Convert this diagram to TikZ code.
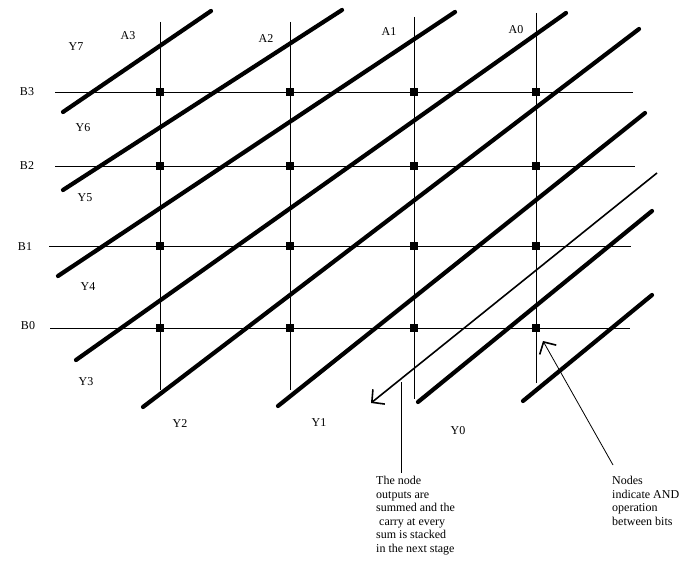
\documentclass[tikz,border=0pt]{standalone}
\usepackage{fontspec}
\setmainfont{Liberation Serif}
\usetikzlibrary{arrows.meta}

\tikzstyle{wire} = [line width=0.8pt]
\tikzstyle{sum} = [line width=4.2pt, line cap=round]
\tikzstyle{bit} = [rectangle, fill, minimum size=8pt, inner sep=0pt]
\tikzstyle{lbl} = [font=\fontsize{12}{13.5}\selectfont, inner sep=0pt]
\tikzstyle{note} = [lbl, align=left, anchor=north west]
\tikzstyle{barb} = [line width=1.6pt, -{Straight Barb[length=9pt,width=19pt,line width=1.6pt]}]

\begin{document}
\begin{tikzpicture}[x=1pt, y=-1pt]
\useasboundingbox (0,0) rectangle (693,585);
%ends of the A wires
\coordinate (A3t) at (160,22);  \coordinate (A3b) at (160,390);
\coordinate (A2t) at (290,22);  \coordinate (A2b) at (290,390);
\coordinate (A1t) at (414,17);  \coordinate (A1b) at (414,399);
\coordinate (A0t) at (536,13);  \coordinate (A0b) at (536,383);
%ends of the B wires
\coordinate (B3l) at (55,92);   \coordinate (B3r) at (633,92);
\coordinate (B2l) at (55,166);  \coordinate (B2r) at (635,166);
\coordinate (B1l) at (49,246);  \coordinate (B1r) at (631,246);
\coordinate (B0l) at (50,328);  \coordinate (B0r) at (630,328);
%begin wires
\draw[wire] (A3t) -- (A3b);
\draw[wire] (A2t) -- (A2b);
\draw[wire] (A1t) -- (A1b);
\draw[wire] (A0t) -- (A0b);
\draw[wire] (B3l) -- (B3r);
\draw[wire] (B2l) -- (B2r);
\draw[wire] (B1l) -- (B1r);
\draw[wire] (B0l) -- (B0r);
%end wires
%begin AND nodes
\node[bit] (a3b3) at (A3t |- B3l) {};
\node[bit] (a2b3) at (A2t |- B3l) {};
\node[bit] (a1b3) at (A1t |- B3l) {};
\node[bit] (a0b3) at (A0t |- B3l) {};
\node[bit] (a3b2) at (A3t |- B2l) {};
\node[bit] (a2b2) at (A2t |- B2l) {};
\node[bit] (a1b2) at (A1t |- B2l) {};
\node[bit] (a0b2) at (A0t |- B2l) {};
\node[bit] (a3b1) at (A3t |- B1l) {};
\node[bit] (a2b1) at (A2t |- B1l) {};
\node[bit] (a1b1) at (A1t |- B1l) {};
\node[bit] (a0b1) at (A0t |- B1l) {};
\node[bit] (a3b0) at (A3t |- B0l) {};
\node[bit] (a2b0) at (A2t |- B0l) {};
\node[bit] (a1b0) at (A1t |- B0l) {};
\node[bit] (a0b0) at (A0t |- B0l) {};
%end AND nodes
%begin sum lines
\coordinate (s1a) at (63,112);  \coordinate (s1b) at (211,11);
\coordinate (s2a) at (63,190);  \coordinate (s2b) at (342,10);
\coordinate (s3a) at (58,276);  \coordinate (s3b) at (455,12);
\coordinate (s4a) at (76,360);  \coordinate (s4b) at (566,13);
\coordinate (s5a) at (143,407); \coordinate (s5b) at (639,29);
\coordinate (s6a) at (278,406); \coordinate (s6b) at (645,113);
\coordinate (s7a) at (418,402); \coordinate (s7b) at (652,211);
\coordinate (s8a) at (523,401); \coordinate (s8b) at (652,295);
\draw[sum] (s1a) -- (s1b);
\draw[sum] (s2a) -- (s2b);
\draw[sum] (s3a) -- (s3b);
\draw[sum] (s4a) -- (s4b);
\draw[sum] (s5a) -- (s5b);
\draw[sum] (s6a) -- (s6b);
\draw[sum] (s7a) -- (s7b);
\draw[sum] (s8a) -- (s8b);
%end sum lines
%carry
\coordinate (cy1) at (657,173);
\coordinate (cy2) at (371,403);
\draw[barb] (cy1) -- (cy2);
%begin labels
\node[lbl] (A3) at (128,36) {A3};
\node[lbl] (A2) at (266,39) {A2};
\node[lbl] (A1) at (389,32) {A1};
\node[lbl] (A0) at (516,30) {A0};
\node[lbl] (B3) at (27,92) {B3};
\node[lbl] (B2) at (27,166) {B2};
\node[lbl] (B1) at (25,247) {B1};
\node[lbl] (B0) at (28,326) {B0};
\node[lbl] (Y7) at (76,47) {Y7};
\node[lbl] (Y6) at (83,128) {Y6};
\node[lbl] (Y5) at (85,198) {Y5};
\node[lbl] (Y4) at (88,287) {Y4};
\node[lbl] (Y3) at (86,382) {Y3};
\node[lbl] (Y2) at (180,424) {Y2};
\node[lbl] (Y1) at (319,423) {Y1};
\node[lbl] (Y0) at (458,431) {Y0};
%end labels
%begin notes
\node[note] (sumnote) at (376,476) {The node\\outputs are\\summed and the\\\hspace{3pt}carry at every\\sum is stacked\\in the next stage};
\node[note] (andnote) at (612,476) {Nodes\\indicate AND\\operation\\between bits};
\coordinate (p1) at (401,382);
\coordinate (p2) at (401,473);
\draw[wire] (p1) -- (p2);
\coordinate (q1) at (613,465);
\coordinate (q2) at (543,341);
\draw[barb, line width=0.8pt] (q1) -- (q2);
%end notes
\end{tikzpicture}
\end{document}
